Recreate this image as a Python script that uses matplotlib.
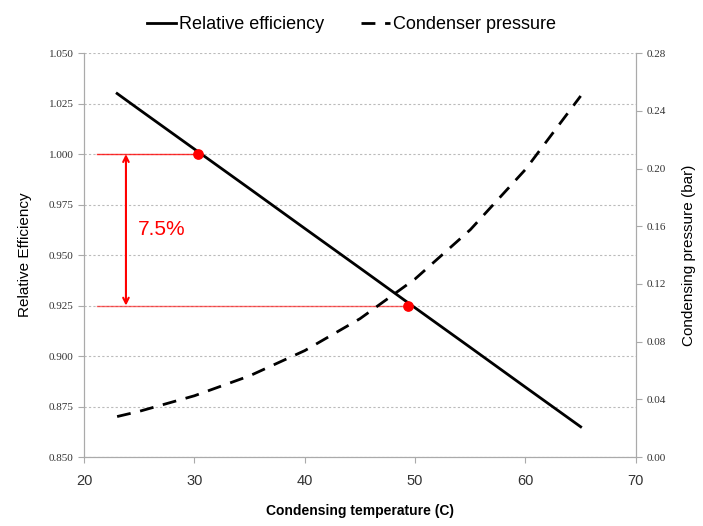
import matplotlib.pyplot as plt

# condensing temperature (C)
temp = [23, 25, 30, 35, 40, 45, 50, 55, 60, 65]
# relative efficiency (solid line)
rel_eff = [1.030, 1.0221, 1.0025, 0.9829, 0.9632, 0.9436, 0.9239, 0.9043, 0.8846, 0.865]
# condenser pressure in bar (dashed line)
pressure = [0.0281, 0.0317, 0.0425, 0.0563, 0.0738, 0.0959, 0.1235, 0.1576, 0.1994, 0.2503]

# marked points
mark_temp = [30.3, 49.4]
mark_eff = [1.000, 0.925]

left_ticks = [0.850, 0.875, 0.900, 0.925, 0.950, 0.975, 1.000, 1.025, 1.050]
right_ticks = [0.00, 0.04, 0.08, 0.12, 0.16, 0.20, 0.24, 0.28]
x_ticks = [20, 30, 40, 50, 60, 70]

plt.rcParams['font.family'] = ['Liberation Sans', 'DejaVu Sans']

fig = plt.figure(figsize=(7.03, 5.26), dpi=100)
ax = fig.add_axes([0.1195, 0.131, 0.785, 0.768])
ax1 = ax.twinx()

lin1 = ax.plot(temp, rel_eff, color='black', lw=2, label='Relative efficiency')
lin2 = ax1.plot(temp, pressure, color='black', lw=2, ls=(0, (5, 3.5)), label='Condenser pressure')

# red annotation
red = '#ff0000'
ax.plot([21.2, mark_temp[0]], [mark_eff[0]] * 2, color=red, lw=1, alpha=0.8, zorder=3)
ax.plot([21.2, mark_temp[1]], [mark_eff[1]] * 2, color=red, lw=1, alpha=0.6, zorder=3)
ax.scatter(mark_temp, mark_eff, color=red, s=45, zorder=5)
ax.annotate('', xy=(23.8, mark_eff[1]), xytext=(23.8, mark_eff[0]),
            arrowprops=dict(arrowstyle='<->', color=red, lw=1.5, mutation_scale=10,
                            shrinkA=0, shrinkB=0))
ax.text(24.9, 0.9625, '7.5%', color=red, fontsize=15, va='center', ha='left')

ax.set_xlim(20, 70)
ax.set_ylim(0.850, 1.050)
ax1.set_ylim(0, 0.28)
ax.set_xticks(x_ticks)
ax.set_yticks(left_ticks)
ax1.set_yticks(right_ticks)
ax.set_yticklabels(['%.3f' % v for v in left_ticks], family='Liberation Serif', fontsize=8)
ax1.set_yticklabels(['%.2f' % v for v in right_ticks], family='Liberation Serif', fontsize=8)
ax.set_xticklabels([str(v) for v in x_ticks], fontsize=10.5, color='#333333')

ax.grid(axis='y', color='#bbbbbb', ls=(0, (2, 2)), lw=0.8)
ax.set_axisbelow(True)

for a in (ax, ax1):
    a.spines['top'].set_visible(False)
    for s in ('left', 'right', 'bottom'):
        a.spines[s].set_color('#aaaaaa')
    a.tick_params(colors='#aaaaaa', labelcolor='#333333', length=4, direction='out')
ax.tick_params(axis='x', pad=8)

ax.set_ylabel('Relative Efficiency', fontsize=11, labelpad=12)
ax1.set_ylabel('Condensing pressure (bar)', fontsize=11, labelpad=12)
ax.set_xlabel('Condensing temperature (C)', fontsize=10, fontweight='bold', labelpad=12)

lins = lin1 + lin2
labs = [l.get_label() for l in lins]
fig.legend(lins, labs, loc='upper center', bbox_to_anchor=(0.5, 1.0), ncol=2, frameon=False,
           fontsize=13, handlelength=1.6, handletextpad=0.2, columnspacing=2.0)

plt.savefig('out.png')
